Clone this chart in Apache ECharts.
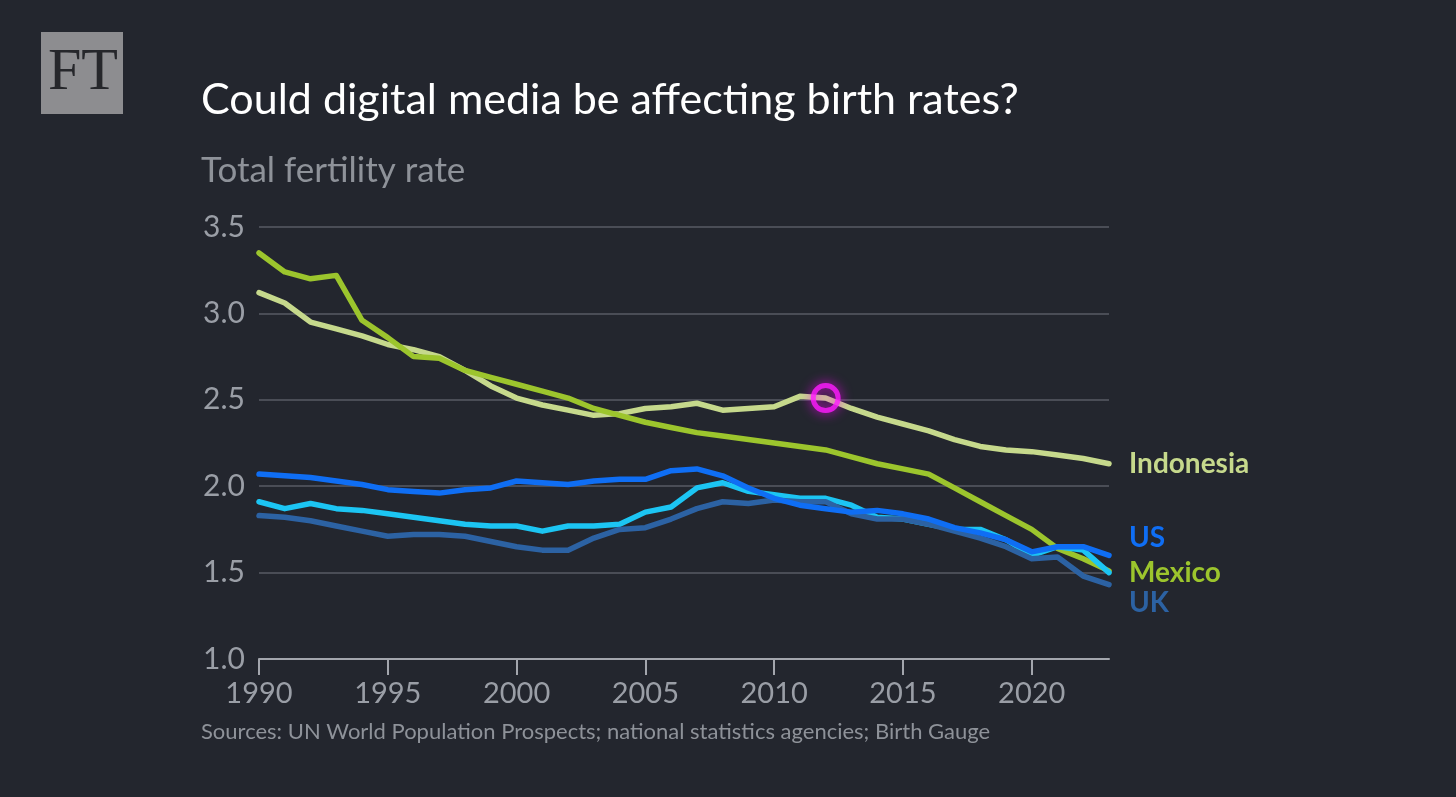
<!DOCTYPE html>
<html>
<head>
<meta charset="utf-8">
<title>Could digital media be affecting birth rates?</title>
<script src="https://cdn.jsdelivr.net/npm/echarts@6/dist/echarts.min.js"></script>
<style>
    html, body { margin: 0; padding: 0; background: #23262e; }
    #chart { width: 1456px; height: 797px; }
</style>
</head>
<body>
<div id="chart"></div>
<script>
// 数据：总和生育率，1990-2023
var years = ['1990','1991','1992','1993','1994','1995','1996','1997','1998','1999',
             '2000','2001','2002','2003','2004','2005','2006','2007','2008','2009',
             '2010','2011','2012','2013','2014','2015','2016','2017','2018','2019',
             '2020','2021','2022','2023'];
var indonesia = [3.12,3.06,2.95,2.91,2.87,2.82,2.79,2.75,2.67,2.58,
                 2.51,2.47,2.44,2.41,2.42,2.45,2.46,2.48,2.44,2.45,
                 2.46,2.52,2.51,2.45,2.40,2.36,2.32,2.27,2.23,2.21,
                 2.20,2.18,2.16,2.13];
var mexico = [3.35,3.24,3.20,3.22,2.96,2.86,2.75,2.74,2.67,2.63,
              2.59,2.55,2.51,2.45,2.41,2.37,2.34,2.31,2.29,2.27,
              2.25,2.23,2.21,2.17,2.13,2.10,2.07,1.99,1.91,1.83,
              1.75,1.64,1.58,1.51];
var us = [2.07,2.06,2.05,2.03,2.01,1.98,1.97,1.96,1.98,1.99,
          2.03,2.02,2.01,2.03,2.04,2.04,2.09,2.10,2.06,1.99,
          1.93,1.89,1.87,1.85,1.86,1.84,1.81,1.76,1.73,1.69,
          1.62,1.65,1.65,1.60];
var other = [1.91,1.87,1.90,1.87,1.86,1.84,1.82,1.80,1.78,1.77,
             1.77,1.74,1.77,1.77,1.78,1.85,1.88,1.99,2.02,1.97,
             1.95,1.93,1.93,1.89,1.82,1.81,1.78,1.75,1.75,1.69,
             1.60,1.65,1.63,1.50];
var uk = [1.83,1.82,1.80,1.77,1.74,1.71,1.72,1.72,1.71,1.68,
          1.65,1.63,1.63,1.70,1.75,1.76,1.81,1.87,1.91,1.90,
          1.92,1.91,1.91,1.84,1.81,1.81,1.78,1.74,1.70,1.65,
          1.58,1.59,1.48,1.43];
var highlightYear = '2012';

var FONT = 'Lato';
var GREY = '#9a9ea6';

function lineSeries (name, data, color, label, dy) {
    var s = {
        name: name,
        type: 'line',
        data: data,
        symbol: 'none',
        lineStyle: { color: color, width: 5.5, cap: 'round', join: 'round' },
        emphasis: { disabled: true }
    };
    if (label) {
        s.endLabel = {
            show: true,
            formatter: label,
            color: color,
            fontFamily: FONT,
            fontSize: 28,
            fontWeight: 'bold',
            distance: 20,
            offset: [0, dy]
        };
    }
    return s;
}

var chart = echarts.init(document.getElementById('chart'));
var option = {
    backgroundColor: '#23262e',
    animation: false,
    grid: { left: 259, right: 347, top: 227, bottom: 138 },
    graphic: [
        { type: 'rect', left: 41, top: 32, shape: { width: 82, height: 82 }, style: { fill: '#8d8d90' } },
        { type: 'text', left: 48, top: 43, style: { text: 'FT', fill: '#26272b', font: '60px "Liberation Serif"' } },
        { type: 'text', left: 201, top: 79, style: { text: 'Could digital media be affecting birth rates?', fill: '#ffffff', font: '43px Lato' } },
        { type: 'text', left: 201, top: 153, style: { text: 'Total fertility rate', fill: '#8e9299', font: '35px Lato' } },
        { type: 'text', left: 201, top: 721, style: { text: 'Sources: UN World Population Prospects; national statistics agencies; Birth Gauge', fill: '#8e9299', font: '22px Lato' } }
    ],
    xAxis: {
        type: 'category',
        data: years,
        boundaryGap: false,
        axisLine: { lineStyle: { color: '#a3a6ad', width: 2 } },
        axisTick: {
            length: 16,
            lineStyle: { color: '#a3a6ad', width: 2 },
            interval: function (i) { return i % 5 === 0; }
        },
        axisLabel: {
            color: GREY,
            fontFamily: FONT,
            fontSize: 29,
            margin: 20,
            interval: function (i) { return i % 5 === 0; }
        }
    },
    yAxis: {
        type: 'value',
        min: 1,
        max: 3.5,
        interval: 0.5,
        axisLine: { show: false },
        axisTick: { show: false },
        axisLabel: {
            color: GREY,
            fontFamily: FONT,
            fontSize: 30,
            margin: 14,
            formatter: function (v) { return v.toFixed(1); }
        },
        splitLine: { lineStyle: { color: '#4a4d56', width: 2 } }
    },
    series: [
        lineSeries('Indonesia', indonesia, '#c6d98c', 'Indonesia', 0),
        lineSeries('Mexico', mexico, '#9cc52d', 'Mexico', 2),
        lineSeries('Other', other, '#1cc5f3', null, 0),
        lineSeries('UK', uk, '#2c62a3', 'UK', 18),
        lineSeries('US', us, '#0f6ef4', 'US', -17),
        {
            type: 'scatter',
            data: [[highlightYear, indonesia[years.indexOf(highlightYear)]]],
            symbol: 'circle',
            symbolSize: 25,
            z: 10,
            itemStyle: {
                color: 'rgba(0,0,0,0)',
                borderColor: '#ff1cff',
                borderWidth: 5,
                shadowBlur: 12,
                shadowColor: '#ff00ff'
            },
            emphasis: { disabled: true }
        }
    ]
};
chart.setOption(option);
</script>
</body>
</html>
